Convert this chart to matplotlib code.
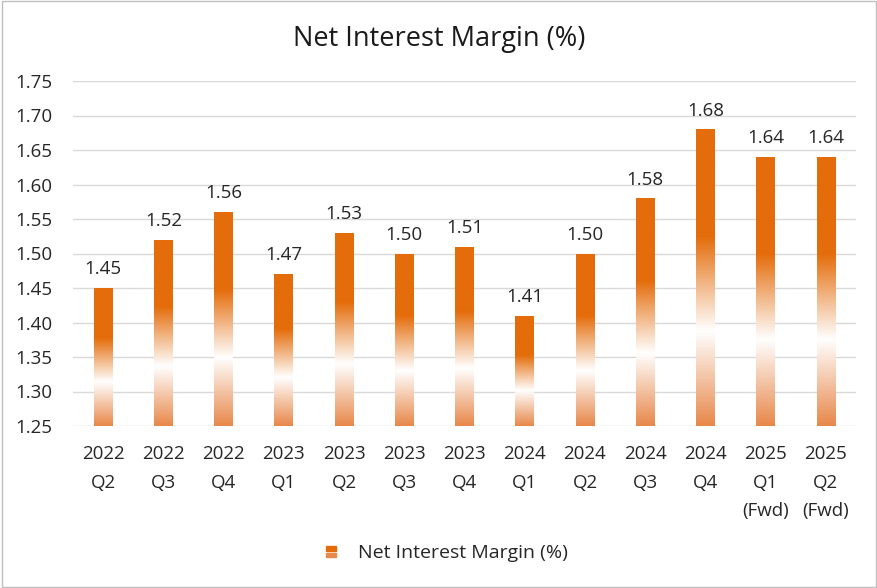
import numpy as np
import matplotlib
matplotlib.use("Agg")
import matplotlib.pyplot as plt
from matplotlib.colors import LinearSegmentedColormap
from matplotlib.patches import Rectangle
from matplotlib.legend_handler import HandlerBase

categories = ["2022\nQ2", "2022\nQ3", "2022\nQ4", "2023\nQ1", "2023\nQ2", "2023\nQ3",
              "2023\nQ4", "2024\nQ1", "2024\nQ2", "2024\nQ3", "2024\nQ4",
              "2025\nQ1\n(Fwd)", "2025\nQ2\n(Fwd)"]
values = [1.45, 1.52, 1.56, 1.47, 1.53, 1.50, 1.51, 1.41, 1.50, 1.58, 1.68, 1.64, 1.64]
value_labels = ["1.45", "1.52", "1.56", "1.47", "1.53", "1.50", "1.51", "1.41", "1.50",
                "1.58", "1.68", "1.64", "1.64"]
yticks = [1.25, 1.30, 1.35, 1.40, 1.45, 1.50, 1.55, 1.60, 1.65, 1.70, 1.75]
series_name = "Net Interest Margin (%)"
title = "Net Interest Margin (%)"

plt.rcParams['font.family'] = ['Open Sans', 'DejaVu Sans']

ORANGE = "#E46C0A"
BOTTOM = "#E8884A"
TXT = "#262626"
cmap = LinearSegmentedColormap.from_list(
    "grad", [(0.0, BOTTOM), (0.32, "#FFFFFF"), (0.64, ORANGE), (1.0, ORANGE)])

fig = plt.figure(figsize=(8.78, 5.88), dpi=100)
ax = fig.add_axes([73/878, 1-426/588, (856-73)/878, (426-81)/588])

x = np.arange(len(categories))
bars = ax.bar(x, values, width=0.31, bottom=0, color="none", zorder=2)
ax.set_ylim(1.25, 1.75)
ax.set_xlim(-0.5, len(categories) - 0.5)

grad = np.linspace(0, 1, 256).reshape(-1, 1)
for b in bars:
    x0 = b.get_x()
    w = b.get_width()
    top = b.get_height()
    im = ax.imshow(grad, cmap=cmap, origin="lower", aspect="auto",
                   extent=(x0, x0 + w, 1.25, top), zorder=2, interpolation="bilinear")
    im.set_clip_path(b)

for xi, v, lab in zip(x, values, value_labels):
    ax.annotate(lab, (xi, v), xytext=(0, 7), textcoords="offset points",
                ha="center", va="bottom", fontsize=13.5, color=TXT)

ax.set_yticks(yticks)
ax.set_yticklabels([f"{t:.2f}" for t in yticks])
ax.set_xticks(x)
ax.set_xticklabels(categories, linespacing=1.72)
ax.tick_params(axis="both", length=0, labelsize=13.5, colors=TXT)
ax.tick_params(axis="x", pad=14)
ax.tick_params(axis="y", pad=15)
ax.grid(axis="y", color="#D9D9D9", linewidth=1, zorder=0)
ax.set_axisbelow(True)
for s in ax.spines.values():
    s.set_visible(False)

fig.text(0.5, 1-39/588, title, ha="center", va="center", fontsize=19.5, color="#1a1a1a")

class GradHandler(HandlerBase):
    def create_artists(self, legend, orig_handle, xdescent, ydescent, width, height, fontsize, trans):
        w = height * 0.75
        x0 = xdescent + (width - w) / 2
        r1 = Rectangle((x0, -ydescent + height*0.5), w, height*0.4, color=ORANGE, transform=trans)
        r2 = Rectangle((x0, -ydescent + height*0.05), w, height*0.3, color=BOTTOM, transform=trans)
        return [r1, r2]

proxy = Rectangle((0, 0), 1, 1, color=ORANGE)
fig.legend([proxy], [series_name], handler_map={Rectangle: GradHandler()},
           loc="center", bbox_to_anchor=(445/878, 1-553/588), frameon=False,
           fontsize=14, handlelength=0.9, handletextpad=0.9, labelcolor=TXT)

fig.add_artist(Rectangle((0.002, 0.002), 0.996, 0.996, transform=fig.transFigure,
                         fill=False, edgecolor="#BFBFBF", linewidth=1))

fig.savefig("out.png", dpi=100)
